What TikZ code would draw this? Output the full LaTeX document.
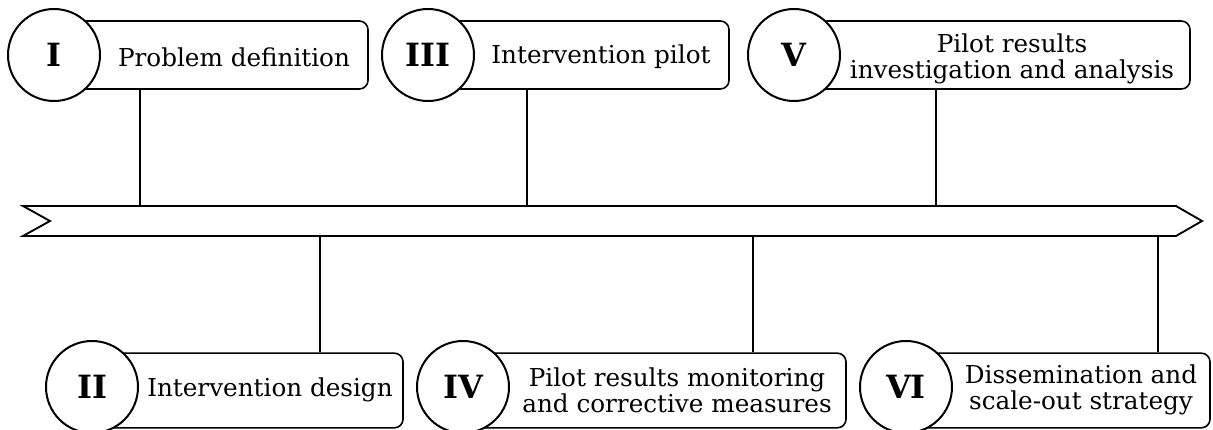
\documentclass[tikz,border=0pt]{standalone}
\usepackage{fontspec}
\setmainfont{DejaVu Serif}
\begin{document}
\begin{tikzpicture}[x=0.75pt,y=-0.75pt,
  stagebox/.style={draw=black,line width=1.2pt,rounded corners=6.5pt,fill=white,inner sep=0pt},
  numcircle/.style={circle,draw=black,line width=1.5pt,fill=white,minimum size=69pt,inner sep=0pt,font=\fontsize{24}{26}\selectfont\bfseries},
  stagetext/.style={align=center,inner sep=0pt,font=\fontsize{18.5}{19.5}\selectfont},
  conn/.style={line width=1.2pt},
  band/.style={line width=1.4pt,fill=white}]
\useasboundingbox (0,0) rectangle (1213,429);
% band
\draw[band] (23,206) -- (1176,206) -- (1202,221) -- (1176,236) -- (23,236) -- (50,221) -- cycle;
% top row
\node[stagebox,minimum width=235.5pt,minimum height=51pt] (b1) at (211,55) {};
\node[numcircle] (c1) at (54,55) {I};
\node[stagetext] (t1) at (234,57) {Problem definition};
\node[stagebox,minimum width=225.75pt,minimum height=51pt] (b3) at (578.5,55) {};
\node[numcircle] (c3) at (428,55) {III};
\node[stagetext] (t3) at (601,57) {Intervention pilot};
\node[stagebox,minimum width=297pt,minimum height=51pt] (b5) at (992,55) {};
\node[numcircle] (c5) at (794,55) {V};
\node[stagetext] (t5) at (1012,59) {Pilot results\\investigation and analysis};
% bottom row
\node[stagebox,minimum width=233.25pt,minimum height=56pt] (b2) at (247.5,390.5) {};
\node[numcircle] (c2) at (92,387) {II};
\node[stagetext] (t2) at (270,390) {Intervention design};
\node[stagebox,minimum width=287.25pt,minimum height=56pt] (b4) at (654.5,390.5) {};
\node[numcircle] (c4) at (463,387) {IV};
\node[stagetext] (t4) at (677,390) {Pilot results monitoring\\and corrective measures};
\node[stagebox,minimum width=228pt,minimum height=56pt] (b6) at (1058,390.5) {};
\node[numcircle] (c6) at (906,387) {VI};
\node[stagetext] (t6) at (1081,390) {Dissemination and\\scale-out strategy};
% connectors
\coordinate (k1) at (140,206);
\coordinate (k3) at (527,206);
\coordinate (k5) at (936,206);
\coordinate (k2) at (320,236);
\coordinate (k4) at (753,236);
\coordinate (k6) at (1158,236);
\draw[conn] (k1 |- b1.south) -- (k1);
\draw[conn] (k3 |- b3.south) -- (k3);
\draw[conn] (k5 |- b5.south) -- (k5);
\draw[conn] (k2) -- (k2 |- b2.north);
\draw[conn] (k4) -- (k4 |- b4.north);
\draw[conn] (k6) -- (k6 |- b6.north);
\end{tikzpicture}
\end{document}
